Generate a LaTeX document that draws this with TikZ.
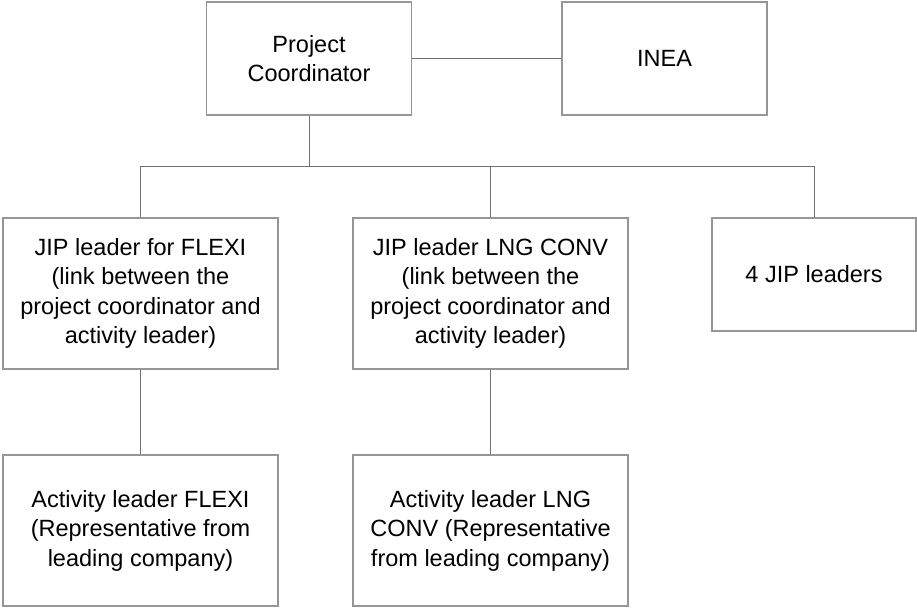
\documentclass[tikz,border=0pt]{standalone}
\usepackage{fontspec}
\setmainfont{Liberation Sans}
\begin{document}
\begin{tikzpicture}[x=1pt,y=-1pt,
  box/.style={draw=boxgray,line width=1.1pt,rectangle,align=center,inner sep=0pt,
    font=\fontsize{23.5}{29.5}\selectfont,text=black},
  narrow/.style={box,minimum width=205pt,minimum height=113pt},
  wide/.style={box,minimum width=275pt,minimum height=151pt},
  link/.style={draw=linegray,line width=1pt}]
\definecolor{boxgray}{RGB}{150,150,150}
\definecolor{linegray}{RGB}{112,112,112}
\useasboundingbox (0,0) rectangle (917,607);
% top row
\node[narrow] (pc) at (309,58.5) {Project\\Coordinator};
\node[narrow] (inea) at (664.5,58.5) {INEA};
% JIP leaders
\node[wide] (jf) at (140.5,293.5) {JIP leader for FLEXI\\(link between the\\project coordinator and\\activity leader)};
\node[wide] (jl) at (490.5,293.5) {JIP leader LNG CONV\\(link between the\\project coordinator and\\activity leader)};
\node[box,minimum width=204pt,minimum height=113pt] (j4) at (814,274.5) {4 JIP leaders};
% activity leaders
\node[wide] (af) at (140.5,530.5) {Activity leader FLEXI\\(Representative from\\leading company)};
\node[wide] (al) at (490.5,530.5) {Activity leader LNG\\CONV (Representative\\from leading company)};
% connectors
\coordinate (bus) at (309,166);
\draw[link] (pc.east) -- (inea.west);
\draw[link] (pc.south) -- (bus);
\draw[link] (jf.north) -- (jf.north |- bus) -| (j4.north);
\draw[link] (jl.north) -- (jl.north |- bus);
\draw[link] (jf.south) -- (af.north);
\draw[link] (jl.south) -- (al.north);
\end{tikzpicture}
\end{document}
